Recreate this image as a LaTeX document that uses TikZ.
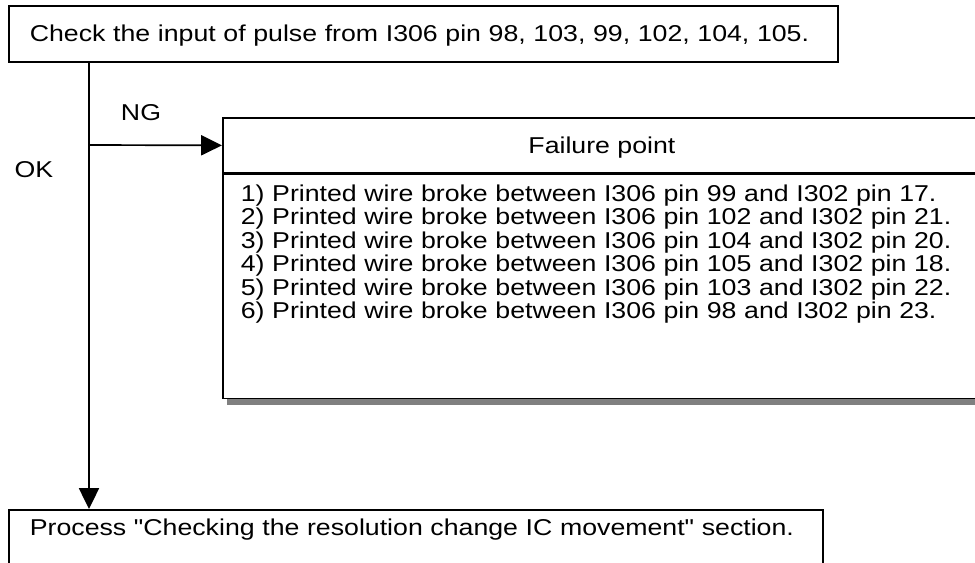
\documentclass[tikz,border=0pt]{standalone}
\usepackage{fontspec}
\setmainfont{Liberation Sans}[FakeStretch=1.165, Ligatures=TeXOff]
\usepackage{tikz}
\usetikzlibrary{positioning,arrows.meta,shadows}
\definecolor{shadowgray}{RGB}{128,128,128}
\tikzset{
  boxline/.style={draw=black, line width=1.2pt, fill=white, anchor=north west, inner ysep=0pt},
  stepbox/.style={boxline, align=left, inner xsep=0.525cm, text width=#1, text height=0.9cm, text depth=0.5cm},
  headbox/.style={boxline, minimum width=18.95cm, text height=0.89cm, text depth=0.485cm},
  listbox/.style={boxline, align=left, inner xsep=0.45cm, text width=18.05cm, text height=0.675cm, text depth=4.925cm,
    drop shadow={shadow xshift=0.1cm, shadow yshift=-0.15cm, fill=shadowgray, opacity=1}},
  arrow/.style={-{Triangle[length=0.52cm, width=0.5cm]}, line width=1.2pt, draw=black},
  lbl/.style={inner sep=0pt}
}

\begin{document}
\begin{tikzpicture}[x=0.025cm, y=-0.025cm, every node/.style={font=\fontsize{16.3pt}{16.63pt}\selectfont}]
    \useasboundingbox (0,0) rectangle (975,562);
    \node[stepbox=19.675cm] (check) at (8,5) {Check the input of pulse from I306 pin 98, 103, 99, 102, 104, 105.};
    \node[headbox] (head) at (222,117) {Failure point};
    \node[listbox, below=0pt of head] (fail) {1) Printed wire broke between I306 pin 99 and I302 pin 17.\\
      2) Printed wire broke between I306 pin 102 and I302 pin 21.\\
      3) Printed wire broke between I306 pin 104 and I302 pin 20.\\
      4) Printed wire broke between I306 pin 105 and I302 pin 18.\\
      5) Printed wire broke between I306 pin 103 and I302 pin 22.\\
      6) Printed wire broke between I306 pin 98 and I302 pin 23.};
    \node[stepbox=19.3cm, text height=0.65cm, text depth=0.8cm] (process) at (8,509) {Process "Checking the resolution change IC movement" section.};
    \coordinate (split) at (89,145);
    \draw[arrow] (split |- check.south) -- (split |- process.north);
    \draw[arrow] (split) -- (head.west);
    \node[lbl] (ng) at (141,113) {NG};
    \node[lbl] (ok) at (34,170) {OK};
\end{tikzpicture}
\end{document}
